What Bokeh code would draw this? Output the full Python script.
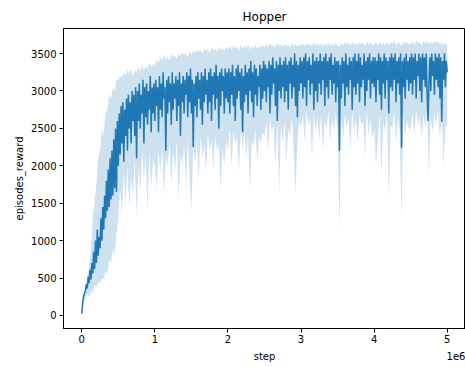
from bokeh.plotting import figure
from bokeh.models import ColumnDataSource, Range1d, FixedTicker, LinearAxis
from bokeh.embed import file_html
from bokeh.resources import INLINE

# mean curve: one sample every 12.5k steps (0 .. 5e6)
mean_step = [i * 12500 for i in range(401)]
reward_mean = [
    25, 180, 260, 300, 330, 420, 360, 520, 430, 610, 480, 700, 560, 850, 620, 1000, 700, 1150, 800, 1050,
    900, 1300, 1000, 1450, 1150, 1600, 1300, 1800, 1400, 1950, 1450, 2100, 1550, 2200, 1600, 2350, 1700, 2500, 1650, 2600,
    2000, 2700, 2150, 2800, 2300, 2850, 2050, 2750, 2400, 2900, 2200, 2950, 2500, 2850, 2300, 3000, 2600, 2950, 2400, 3050,
    2100, 3000, 2600, 3100, 2500, 2950, 2700, 3150, 2300, 3050, 2650, 3100, 2550, 3000, 2750, 3200, 2450, 3050, 2700, 3100,
    2600, 3150, 2800, 3050, 2450, 3200, 2750, 3100, 2650, 3250, 2900, 3050, 2200, 3150, 2700, 3200, 2850, 3100, 2550, 3250,
    2750, 3100, 2900, 3200, 2600, 3150, 2800, 3250, 2400, 3100, 2850, 3200, 2700, 3150, 2950, 3250, 2650, 3200, 2850, 3300,
    2700, 3150, 2250, 3100, 2800, 3200, 2650, 3250, 2900, 3150, 2750, 3250, 2550, 3200, 2850, 3300, 2950, 3150, 2700, 3250,
    2850, 3300, 2600, 3200, 2950, 3250, 2750, 3350, 2900, 3200, 2500, 3250, 2800, 3300, 3000, 3200, 2700, 3300, 2900, 3250,
    2850, 3300, 2700, 3250, 2950, 3350, 2800, 3200, 2600, 3300, 2900, 3350, 3000, 3250, 2750, 3300, 2450, 3200, 2850, 3350,
    2950, 3250, 2700, 3300, 3000, 3400, 2850, 3250, 2650, 3350, 2950, 3300, 2800, 3200, 3050, 3350, 2750, 3300, 2900, 3400,
    3000, 3350, 2850, 3300, 3050, 3400, 2700, 3350, 2950, 3450, 3100, 3300, 2800, 3400, 2600, 3350, 3000, 3450, 2900, 3350,
    3050, 3400, 2850, 3450, 3000, 3350, 2750, 3400, 3100, 3450, 2900, 3350, 3050, 3500, 2800, 3400, 2650, 3350, 3000, 3450,
    3100, 3400, 2900, 3450, 3050, 3500, 2800, 3400, 3150, 3450, 2950, 3350, 3100, 3500, 2750, 3400, 3000, 3450, 2850, 3400,
    3100, 3500, 2950, 3400, 3150, 3450, 2800, 3500, 3050, 3400, 2900, 3450, 3150, 3500, 2950, 3350, 3100, 3450, 2850, 3400,
    3050, 3400, 2200, 3350, 2900, 3450, 3100, 3400, 2800, 3500, 3050, 3350, 2950, 3450, 3150, 3400, 2750, 3450, 3050, 3500,
    2950, 3400, 3100, 3500, 2850, 3450, 3050, 3350, 3150, 3500, 2800, 3400, 3000, 3450, 3150, 3500, 2900, 3400, 3100, 3450,
    3050, 3450, 2850, 3400, 3150, 3500, 2950, 3450, 2750, 3400, 3100, 3500, 2900, 3450, 3150, 3400, 2700, 3450, 3050, 3500,
    3000, 3450, 3150, 3500, 2850, 3400, 3100, 3450, 2950, 3500, 2240, 3400, 3050, 3450, 2900, 3500, 3150, 3400, 3000, 3450,
    3100, 3500, 2950, 3450, 3150, 3500, 2900, 3400, 3200, 3500, 3000, 3450, 2850, 3500, 3150, 3450, 3050, 3500, 2950, 2600,
    3100, 3450, 3000, 3500, 3200, 3400, 2950, 3500, 3150, 3450, 3050, 3500, 2900, 3450, 2590, 3400, 3150, 3500, 3050, 3400,
    3250,
]

# shaded band: one sample every 25k steps (0 .. 5e6)
band_step = [i * 25000 for i in range(201)]
reward_hi = [
    25, 230, 350, 500, 650, 900, 1300, 1500, 1750, 2100, 2200, 2500, 2400, 2700, 2750, 2950, 2900, 3050, 3000, 3150,
    3150, 3200, 3180, 3250, 3200, 3280, 3220, 3300, 3200, 3280, 3250, 3320, 3260, 3350, 3280, 3330, 3300, 3380, 3320, 3360,
    3350, 3420, 3380, 3450, 3400, 3480, 3420, 3460, 3400, 3500, 3450, 3470, 3430, 3500, 3460, 3520, 3480, 3500, 3450, 3530,
    3480, 3540, 3500, 3560, 3520, 3550, 3500, 3570, 3530, 3560, 3510, 3580, 3540, 3560, 3520, 3590, 3550, 3570, 3540, 3580,
    3560, 3600, 3550, 3610, 3570, 3590, 3540, 3620, 3560, 3600, 3580, 3610, 3550, 3590, 3570, 3620, 3560, 3600, 3580, 3610,
    3580, 3620, 3590, 3630, 3600, 3610, 3580, 3640, 3600, 3620, 3590, 3630, 3600, 3610, 3580, 3640, 3600, 3620, 3590, 3630,
    3600, 3630, 3590, 3640, 3610, 3620, 3600, 3650, 3610, 3630, 3600, 3640, 3590, 3630, 3610, 3650, 3600, 3630, 3610, 3640,
    3600, 3580, 3640, 3610, 3650, 3620, 3640, 3600, 3660, 3620, 3640, 3610, 3650, 3630, 3640, 3600, 3660, 3620, 3650, 3610,
    3620, 3650, 3600, 3660, 3620, 3640, 3610, 3660, 3600, 3650, 3630, 3670, 3610, 3650, 3630, 3600, 3660, 3630, 3650, 3620,
    3630, 3660, 3620, 3670, 3640, 3650, 3610, 3660, 3640, 3670, 3620, 3660, 3630, 3670, 3640, 3660, 3620, 3650, 3610, 3640,
    3600,
]
reward_lo = [
    25, 150, 230, 280, 250, 330, 300, 400, 380, 450, 420, 500, 480, 600, 550, 750, 700, 900, 800, 1100,
    1300, 1700, 1350, 1900, 1500, 2000, 1450, 1850, 1600, 2100, 1300, 2000, 1650, 2200, 1800, 2150, 1400, 2200, 1700, 2100,
    2000, 1700, 2200, 1900, 2250, 1600, 2100, 2000, 2300, 1750, 2200, 1900, 2350, 1550, 2150, 2000, 2300, 1700, 2400, 1850,
    1380, 2300, 2000, 2350, 1800, 2400, 2100, 2300, 1900, 2450, 2200, 2350, 1950, 2400, 2200, 2300, 1650, 2250, 2000, 2350,
    2200, 2500, 2000, 2450, 2300, 2400, 1900, 2500, 2200, 2450, 2100, 2400, 1650, 2350, 2250, 2500, 2050, 2400, 2300, 2450,
    2400, 2600, 2200, 2650, 2450, 2550, 2000, 2600, 1630, 2550, 2300, 2600, 2050, 2500, 2400, 2650, 2200, 1630, 2300, 2600,
    2500, 2700, 2300, 2750, 2550, 2650, 2100, 2700, 2450, 2650, 2350, 2700, 2200, 2600, 2500, 2750, 2300, 2650, 2450, 2700,
    2500, 1140, 2650, 2350, 2700, 2500, 2650, 2200, 2750, 2400, 2650, 2300, 2700, 2550, 2600, 2100, 2750, 2400, 2650, 2350,
    2500, 2000, 2350, 2700, 1870, 2600, 2450, 2700, 1570, 2550, 2500, 2750, 2300, 2650, 2450, 1300, 2700, 2400, 2600, 2500,
    2500, 2700, 2400, 2750, 2550, 2650, 2350, 2700, 2500, 2750, 1870, 2650, 2450, 2700, 2550, 2750, 2350, 2650, 2000, 2550,
    2500,
]

x_ticks = [0, 1000000, 2000000, 3000000, 4000000, 5000000]
x_tick_labels = ["0", "1", "2", "3", "4", "5"]
y_ticks = [0, 500, 1000, 1500, 2000, 2500, 3000, 3500]
x_axis_title = "step"
x_offset_text = "1e6"
# where the axis title and the offset text sit along the x axis
x_caption_pos = [2500000, 5125000]

FONT = "DejaVu Sans"
BLUE = "#1f77b4"

band = ColumnDataSource(dict(step=band_step, lo=reward_lo, hi=reward_hi))
mean = ColumnDataSource(dict(step=mean_step, mean=reward_mean))

p = figure(width=465, height=367, output_backend="svg", toolbar_location=None,
           x_range=Range1d(-250000, 5250000), y_range=Range1d(-174, 3835),
           min_border_left=63, min_border_right=0, min_border_top=28, min_border_bottom=39)

p.varea(x="step", y1="lo", y2="hi", source=band, fill_color=BLUE, fill_alpha=0.22)
p.line(x="step", y="mean", source=mean, line_color=BLUE, line_width=1.5)

p.title.text = "Hopper"
p.title.align = "center"
p.title.text_font = FONT
p.title.text_font_size = "12px"
p.title.text_font_style = "normal"
p.title.text_color = "black"
p.title.standoff = 10

p.xgrid.visible = False
p.ygrid.visible = False
p.outline_line_color = "black"
p.outline_line_width = 1
p.outline_line_alpha = 1
p.background_fill_color = "white"
p.border_fill_color = "white"

p.xaxis.ticker = FixedTicker(ticks=x_ticks)
p.xaxis.major_label_overrides = {t: l for t, l in zip(x_ticks, x_tick_labels)}
p.yaxis.ticker = FixedTicker(ticks=y_ticks)

for ax in (p.xaxis, p.yaxis):
    ax.axis_line_color = "black"
    ax.major_tick_line_color = "black"
    ax.major_tick_out = 4
    ax.major_tick_in = 0
    ax.minor_tick_line_color = None
    ax.major_label_text_font = FONT
    ax.major_label_text_font_size = "10px"
    ax.major_label_text_color = "black"
    ax.axis_label_text_font = FONT
    ax.axis_label_text_font_size = "10px"
    ax.axis_label_text_font_style = "normal"
    ax.axis_label_text_color = "black"

p.xaxis.major_label_standoff = 2
p.yaxis.axis_label = "episodes_reward"
p.yaxis.major_label_standoff = 3
p.yaxis.axis_label_standoff = 3

# second row under the x axis: axis title "step" and the offset text "1e6"
cap = LinearAxis(ticker=FixedTicker(ticks=x_caption_pos),
                 major_label_overrides={x_caption_pos[0]: x_axis_title, x_caption_pos[1]: x_offset_text})
cap.axis_line_color = None
cap.major_tick_line_color = None
cap.minor_tick_line_color = None
cap.major_tick_out = 0
cap.major_tick_in = 0
cap.major_label_standoff = 5
cap.major_label_text_font = FONT
cap.major_label_text_font_size = "10px"
cap.major_label_text_color = "black"
p.add_layout(cap, "below")

open("out.html", "w").write(file_html(p, INLINE))
